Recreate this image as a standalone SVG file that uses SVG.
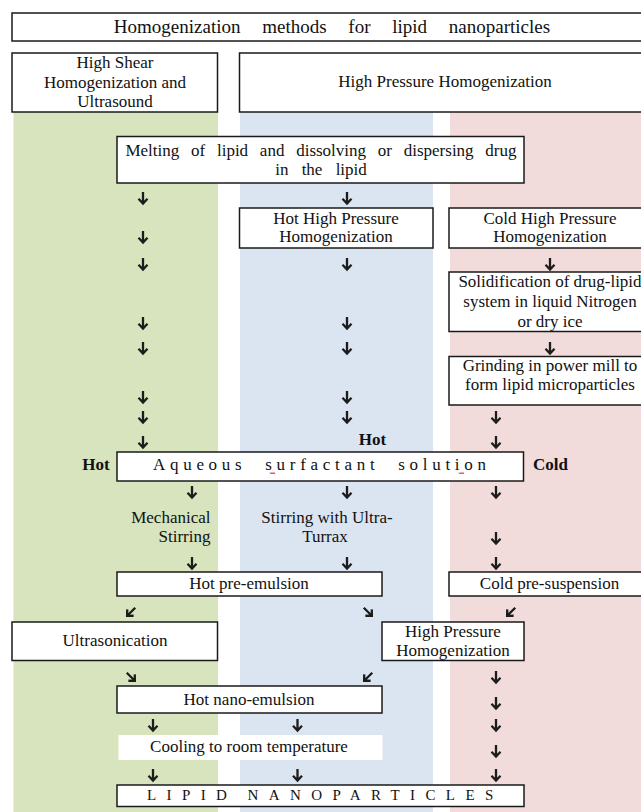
<svg xmlns="http://www.w3.org/2000/svg" width="641" height="812" viewBox="0 0 641 812">
<defs>
<style>
.box{fill:#fff;stroke:#1a1a1a;stroke-width:1.5}
.t{font-family:"Liberation Serif","Times New Roman",serif;font-size:17px;fill:#111;text-anchor:middle}
.bold{font-weight:bold}
.arr{fill:none;stroke:#1c1c1c;stroke-width:2.3}
.sq{fill:none;stroke:#e03030;stroke-width:0.9}
</style>
<path id="ad" class="arr" d="M0,-6 V5 M-4.5,0.8 L0,5.5 L4.5,0.8"/>
</defs>
<rect width="641" height="812" fill="#fff"/>
<g id="columns">
<rect x="13.5" y="112" width="204.5" height="700" fill="#d7e4bd"/>
<rect x="240" y="112" width="193" height="700" fill="#dbe5f1"/>
<rect x="450" y="112" width="191" height="700" fill="#f2dcdb"/>
</g>
<g id="title"><rect class="box" x="12" y="13" width="660" height="28"/>
<text class="t" x="332" y="33" style="font-size:19px;word-spacing:17px">Homogenization methods for lipid nanoparticles</text></g>
<g id="hsh"><rect class="box" x="12" y="53" width="205.5" height="59"/>
<text class="t" x="115" y="68">High Shear</text><text class="t" x="115" y="87.5">Homogenization and</text><text class="t" x="115" y="107">Ultrasound</text></g>
<g id="hph-head"><rect class="box" x="239.5" y="53" width="420" height="59"/>
<text class="t" x="445" y="87">High Pressure Homogenization</text></g>
<g id="melt"><rect class="box" x="117" y="136.5" width="407" height="46.5"/>
<text class="t" x="321" y="156" style="word-spacing:7.5px">Melting of lipid and dissolving or dispersing drug</text>
<text class="t" x="321" y="174.5" style="word-spacing:9px">in the lipid</text></g>
<g id="hothph"><rect class="box" x="239.5" y="208" width="193.5" height="40"/>
<text class="t" x="336" y="223.5">Hot High Pressure</text><text class="t" x="336" y="242">Homogenization</text></g>
<g id="coldhph"><rect class="box" x="449" y="208" width="220" height="40"/>
<text class="t" x="550" y="223.5">Cold High Pressure</text><text class="t" x="550" y="242">Homogenization</text></g>
<g id="solid"><rect class="box" x="449" y="272" width="220" height="59.5"/>
<text class="t" x="550" y="287">Solidification of drug-lipid</text><text class="t" x="550" y="307">system in liquid Nitrogen</text><text class="t" x="550" y="327">or dry ice</text></g>
<g id="grind"><rect class="box" x="449" y="356.5" width="220" height="48.5"/>
<text class="t" x="550" y="371">Grinding in power mill to</text><text class="t" x="550" y="390">form lipid microparticles</text></g>
<g id="labels">
<text class="t bold" x="372.5" y="445">Hot</text>
<text class="t bold" x="96" y="470">Hot</text>
<text class="t bold" x="533" y="470" style="text-anchor:start">Cold</text>
<text class="t" x="210.5" y="523" style="text-anchor:end">Mechanical</text>
<text class="t" x="210.5" y="542" style="text-anchor:end">Stirring</text>
<text class="t" x="327" y="523">Stirring with Ultra-</text>
<text class="t" x="325" y="542">Turrax</text>
</g>
<g id="aqueous"><rect class="box" x="117" y="452" width="406.5" height="29"/>
<text class="t" x="153" y="470" style="text-anchor:start;letter-spacing:4.7px;word-spacing:10px">Aqueous surfactant solution</text>
<path class="sq" d="M270,472.5 l1,1.5 l1,-1.5 l1,1.5 l1,-1.5 l1,1.5"/>
<path class="sq" d="M459,472.5 l1,1.5 l1,-1.5 l1,1.5 l1,-1.5 l1,1.5"/></g>
<g id="hotpre"><rect class="box" x="117" y="572" width="265" height="24"/>
<text class="t" x="249" y="589">Hot pre-emulsion</text></g>
<g id="coldpre"><rect class="box" x="449" y="572" width="220" height="24"/>
<text class="t" x="549.5" y="589">Cold pre-suspension</text></g>
<g id="ultra"><rect class="box" x="12" y="622" width="205.5" height="38.5"/>
<text class="t" x="115" y="646">Ultrasonication</text></g>
<g id="hph"><rect class="box" x="382" y="622" width="142" height="38.5"/>
<text class="t" x="453" y="636.5">High Pressure</text><text class="t" x="453" y="655.5">Homogenization</text></g>
<g id="hotnano"><rect class="box" x="117" y="686" width="265" height="27"/>
<text class="t" x="249" y="705">Hot nano-emulsion</text></g>
<g id="cooling"><rect x="118.5" y="735" width="264" height="25" fill="#fff"/>
<text class="t" x="249" y="751.5">Cooling to room temperature</text></g>
<g id="lipid"><rect class="box" x="117" y="785" width="407" height="21.5"/>
<text class="t" x="147" y="800" style="text-anchor:start;font-size:15px;letter-spacing:10.4px;word-spacing:-4px">LIPID NANOPARTICLES</text></g>
<g id="connectors">
<use href="#ad" x="143" y="198"/><use href="#ad" x="143" y="237"/><use href="#ad" x="143" y="264"/><use href="#ad" x="143" y="323"/><use href="#ad" x="143" y="348"/><use href="#ad" x="143" y="397"/><use href="#ad" x="143" y="417"/><use href="#ad" x="143" y="442"/>
<use href="#ad" x="347" y="198"/><use href="#ad" x="347" y="264"/><use href="#ad" x="347" y="323"/><use href="#ad" x="347" y="348"/><use href="#ad" x="347" y="397"/><use href="#ad" x="347" y="417"/>
<use href="#ad" x="550" y="264"/><use href="#ad" x="550" y="348"/><use href="#ad" x="496" y="417"/><use href="#ad" x="496" y="442"/>
<use href="#ad" x="192" y="492"/><use href="#ad" x="347" y="492"/><use href="#ad" x="496" y="492"/>
<use href="#ad" x="496" y="538"/>
<use href="#ad" x="192" y="563"/><use href="#ad" x="347" y="563"/><use href="#ad" x="496" y="563"/>
<use href="#ad" transform="translate(131,612) rotate(45)"/>
<use href="#ad" transform="translate(368,612) rotate(-45)"/>
<use href="#ad" transform="translate(511,612) rotate(45)"/>
<use href="#ad" transform="translate(131,677) rotate(-45)"/>
<use href="#ad" transform="translate(368,677) rotate(45)"/>
<use href="#ad" x="496" y="677"/><use href="#ad" x="496" y="703"/>
<use href="#ad" x="153" y="725"/><use href="#ad" x="297.5" y="725"/><use href="#ad" x="496" y="725"/>
<use href="#ad" x="496" y="751"/>
<use href="#ad" x="153" y="775"/><use href="#ad" x="297.5" y="775"/><use href="#ad" x="496" y="775"/>
</g>
</svg>
